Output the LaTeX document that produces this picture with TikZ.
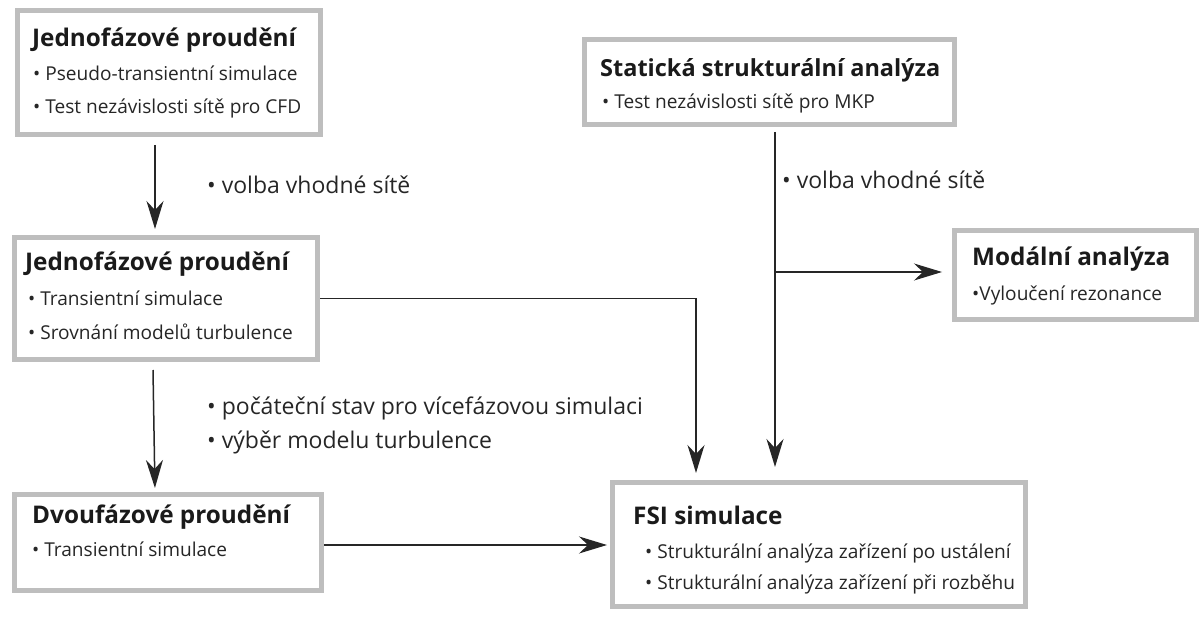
\documentclass[tikz,border=0pt]{standalone}
\usepackage{fontspec}
\setmainfont{Open Sans}
\usetikzlibrary{arrows.meta,calc}
\definecolor{boxgray}{HTML}{BEBEBE}
\definecolor{txt}{HTML}{262626}
\definecolor{ttl}{HTML}{1A1A1A}
\tikzset{
  box/.style={draw=boxgray, line width=5pt, fill=white, inner sep=0pt, rectangle},
  ttlnode/.style={anchor=base west, inner sep=0pt, text=ttl, font=\fontsize{24.3}{28}\selectfont\bfseries},
  itemnode/.style={anchor=base west, inner sep=0pt, text=txt, font=\fontsize{19.1}{22}\selectfont},
  lblnode/.style={anchor=base west, inner sep=0pt, text=txt, font=\fontsize{23}{26}\selectfont},
  arr/.style={line width=1.5pt, draw=black!85, -{Stealth[length=28pt,width=17pt,inset=9pt]}},
  ln/.style={line width=1.5pt, draw=black!85}
}
\begin{document}
\begin{tikzpicture}[x=1pt,y=-1pt]
\useasboundingbox (0,0) rectangle (1201,617);
% boxes
\node[box, minimum width=303pt, minimum height=124pt] (b1) at (169,72.5) {};
\node[box, minimum width=370pt, minimum height=85pt] (b2) at (769.5,82) {};
\node[box, minimum width=303pt, minimum height=122pt] (b3) at (166,298.5) {};
\node[box, minimum width=307pt, minimum height=96pt] (b4) at (168,542.5) {};
\node[box, minimum width=413pt, minimum height=124pt] (b5) at (819,544.5) {};
\node[box, minimum width=242pt, minimum height=89pt] (b6) at (1075.5,275) {};
% box texts
\node[ttlnode] (t1) at (32,47) {Jednofázové proudění};
\node[itemnode] (t1a) at (33,81) {• Pseudo-transientní simulace};
\node[itemnode] (t1b) at (33,114) {• Test nezávislosti sítě pro CFD};
\node[ttlnode, font=\fontsize{23.5}{28}\selectfont\bfseries] (t2) at (600,77) {Statická strukturální analýza};
\node[itemnode] (t2a) at (602,109) {• Test nezávislosti sítě pro MKP};
\node[ttlnode] (t3) at (25,271) {Jednofázové proudění};
\node[itemnode] (t3a) at (28,306) {• Transientní simulace};
\node[itemnode] (t3b) at (28,339) {• Srovnání modelů turbulence};
\node[ttlnode] (t4) at (32,523) {Dvoufázové proudění};
\node[itemnode] (t4a) at (32,556) {• Transientní simulace};
\node[ttlnode] (t5) at (633,524) {FSI simulace};
\node[itemnode] (t5a) at (645,558) {• Strukturální analýza zařízení po ustálení};
\node[itemnode] (t5b) at (645,589) {• Strukturální analýza zařízení při rozběhu};
\node[ttlnode] (t6) at (972,266) {Modální analýza};
\node[itemnode] (t6a) at (972,301) {•Vyloučení rezonance};
% labels
\node[lblnode] (l1) at (207,194) {• volba vhodné sítě};
\node[lblnode] (l2) at (782,189) {• volba vhodné sítě};
\node[lblnode] (l3) at (207,414) {• počáteční stav pro vícefázovou simulaci};
\node[lblnode] (l4) at (207,448) {• výběr modelu turbulence};
% helper coordinates
\coordinate (p1) at (155,0);
\coordinate (p2) at (153,370);
\coordinate (q2) at (155,0);
\coordinate (c1) at (696,0);
\coordinate (c2) at (775,0);
\coordinate (c3) at (0,272);
\coordinate (c4) at (0,545);
% connectors
\draw[arr, shorten <=8pt, shorten >=6pt] (p1 |- b1.south) -- (p1 |- b3.north);
\draw[arr, shorten >=4pt] (p2) -- (q2 |- b4.north);
\draw[arr, shorten >=7pt] (b3.east) -| (c1 |- b5.north);
\draw[arr, shorten <=5pt, shorten >=13pt] (c2 |- b2.south) -- (c2 |- b5.north);
\draw[arr, shorten >=10pt] (c2 |- c3) -- (c3 -| b6.west);
\draw[arr, shorten >=3pt] (b4.east |- c4) -- (c4 -| b5.west);
\end{tikzpicture}
\end{document}
